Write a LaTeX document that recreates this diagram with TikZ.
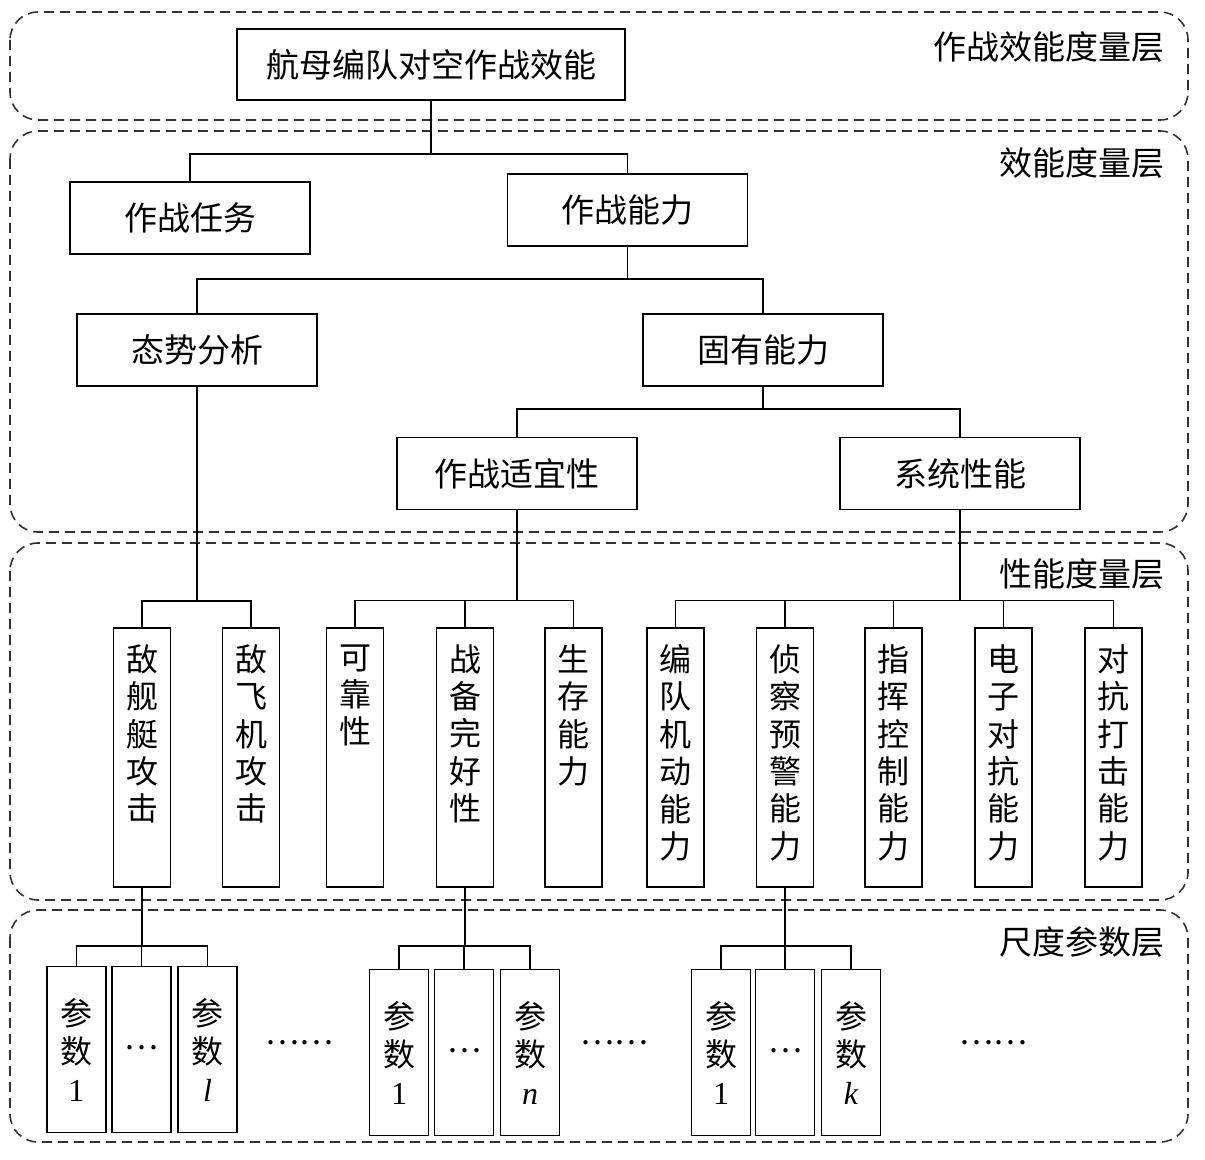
\documentclass[tikz,border=0pt]{standalone}
\usepackage{fontspec}
\setmainfont{Liberation Serif}
\newfontfamily\cjk{Noto Sans CJK SC}
\newcommand{\vtext}[1]{\parbox[c][126pt][t]{28pt}{\centering\vspace*{6.5pt}#1}}
\begin{document}
\begin{tikzpicture}[x=0.5pt,y=-0.5pt,
  layer/.style={draw=black!80, dash pattern=on 5pt off 3pt, rounded corners=14pt, line width=0.8pt},
  hbox/.style={draw, line width=0.9pt, minimum width=120pt, minimum height=36pt, inner sep=0pt, font=\cjk\fontsize{16.5}{20}\selectfont},
  vbox/.style={draw, line width=0.9pt, minimum width=28.5pt, minimum height=129.5pt, inner sep=0pt, font=\cjk\fontsize{16}{18.7}\selectfont},
  pbox/.style={draw, line width=0.9pt, minimum width=29.5pt, minimum height=83pt, inner sep=0pt, align=center, font=\cjk\fontsize{16}{19}\selectfont},
  tag/.style={anchor=east, inner sep=0pt, font=\cjk\fontsize{16.5}{20}\selectfont},
  link/.style={line width=0.75pt}]
\useasboundingbox (0,0) rectangle (1205,1160);
% layers
\draw[layer] (10,12) rectangle (1188,120);
\draw[layer] (10,131) rectangle (1188,532);
\draw[layer] (10,543) rectangle (1188,900);
\draw[layer] (10,910) rectangle (1188,1142);
\node[tag] (l1) at (1165,47) {作战效能度量层};
\node[tag] (l2) at (1165,163) {效能度量层};
\node[tag] (l3) at (1165,574) {性能度量层};
\node[tag] (l4) at (1165,942) {尺度参数层};
% effectiveness
\node[hbox, minimum width=194pt, minimum height=35.5pt] (eff) at (431,64.5) {航母编队对空作战效能};
\node[hbox] (task) at (190,218) {作战任务};
\node[hbox] (cap) at (627.5,210) {作战能力};
\node[hbox] (situ) at (197,350) {态势分析};
\node[hbox] (inh) at (763,350) {固有能力};
\node[hbox] (suit) at (517,473.5) {作战适宜性};
\node[hbox] (sys) at (960,473.5) {系统性能};
% performance
\node[vbox] (ship) at (142,757.5) {\vtext{敌\\舰\\艇\\攻\\击}};
\node[vbox] (air) at (251,757.5) {\vtext{敌\\飞\\机\\攻\\击}};
\node[vbox] (rel) at (355,757.5) {\vtext{可\\靠\\性}};
\node[vbox] (ready) at (465,757.5) {\vtext{战\\备\\完\\好\\性}};
\node[vbox] (surv) at (573.5,757.5) {\vtext{生\\存\\能\\力}};
\node[vbox] (mano) at (675.5,757.5) {\vtext{编\\队\\机\\动\\能\\力}};
\node[vbox] (recon) at (785,757.5) {\vtext{侦\\察\\预\\警\\能\\力}};
\node[vbox] (cmd) at (893.5,757.5) {\vtext{指\\挥\\控\\制\\能\\力}};
\node[vbox] (ew) at (1003.5,757.5) {\vtext{电\\子\\对\\抗\\能\\力}};
\node[vbox] (strike) at (1113.5,757.5) {\vtext{对\\抗\\打\\击\\能\\力}};
% parameters
\node[pbox] (pa1) at (76.5,1049.5) {参\\数\\{\rmfamily 1}};
\node[pbox] (pa2) at (141.5,1049.5) {\raisebox{2pt}{…}};
\node[pbox] (pa3) at (207.5,1049.5) {参\\数\\{\rmfamily\itshape l}};
\node[pbox] (pb1) at (399,1052.5) {参\\数\\{\rmfamily 1}};
\node[pbox] (pb2) at (464,1052.5) {\raisebox{2pt}{…}};
\node[pbox] (pb3) at (530,1052.5) {参\\数\\{\rmfamily\itshape n}};
\node[pbox] (pc1) at (721,1052.5) {参\\数\\{\rmfamily 1}};
\node[pbox] (pc2) at (785,1052.5) {\raisebox{2pt}{…}};
\node[pbox] (pc3) at (851,1052.5) {参\\数\\{\rmfamily\itshape k}};
\node[font=\cjk\fontsize{16}{18}\selectfont] (dotsa) at (299,1043) {……};
\node[font=\cjk\fontsize{16}{18}\selectfont] (dotsb) at (614,1043) {……};
\node[font=\cjk\fontsize{16}{18}\selectfont] (dotsc) at (993,1043) {……};
% links
\foreach \c in {task,cap} \draw[link] (eff.south) -- ++(0,53) -| (\c.north);
\foreach \c in {situ,inh} \draw[link] (cap.south) -- ++(0,32) -| (\c.north);
\foreach \c in {suit,sys} \draw[link] (inh.south) -- ++(0,22) -| (\c.north);
\foreach \c in {ship,air} \draw[link] (situ.south) -- ++(0,214) -| (\c.north);
\foreach \c in {rel,ready,surv} \draw[link] (suit.south) -- ++(0,90) -| (\c.north);
\foreach \c in {mano,recon,cmd,ew,strike} \draw[link] (sys.south) -- ++(0,90) -| (\c.north);
\foreach \c in {pa1,pa2,pa3} \draw[link] (ship.south) -- ++(0,58) -| (\c.north);
\foreach \c in {pb1,pb2,pb3} \draw[link] (ready.south) -- ++(0,58) -| (\c.north);
\foreach \c in {pc1,pc2,pc3} \draw[link] (recon.south) -- ++(0,58) -| (\c.north);
\end{tikzpicture}
\end{document}
